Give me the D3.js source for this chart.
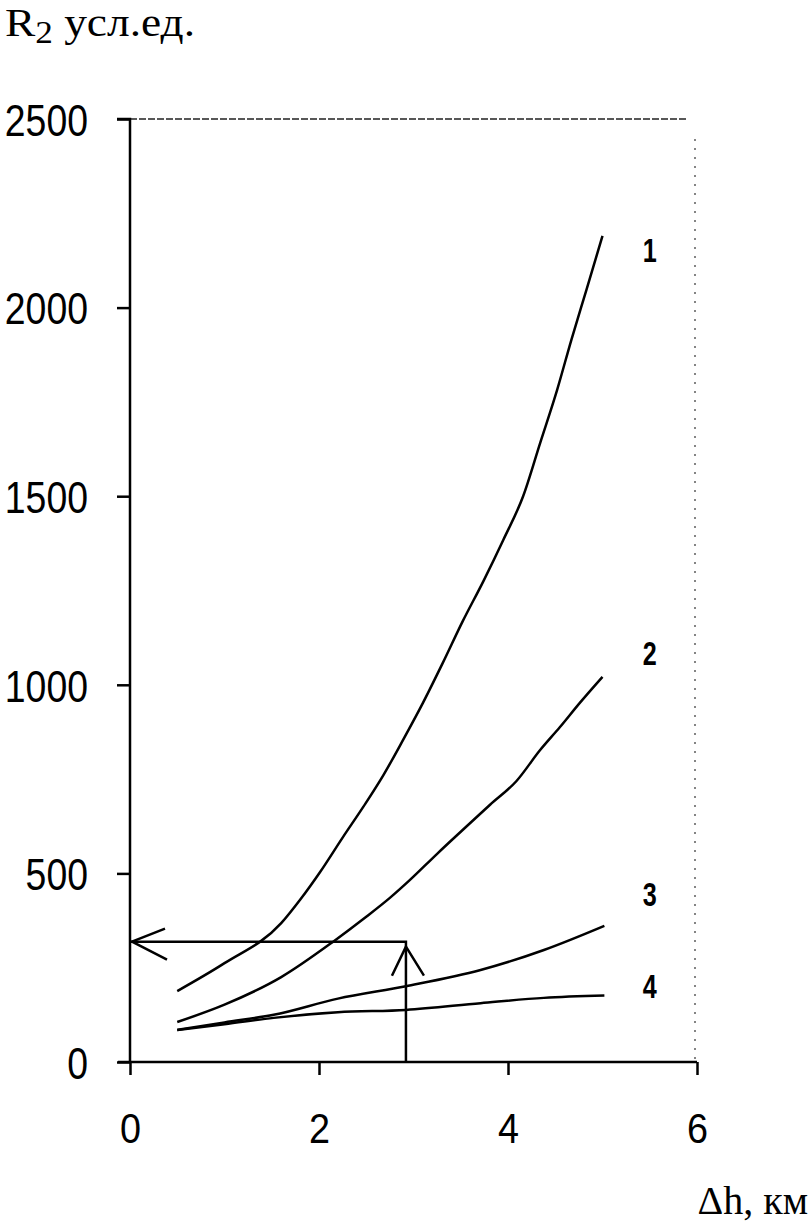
<!DOCTYPE html>
<html><head><meta charset="utf-8">
<script src="https://cdn.jsdelivr.net/npm/d3@7"></script>
<style>body{margin:0;background:#fff}svg{display:block}</style>
</head><body>
<svg id="c" width="810" height="1232"></svg>
<script>
const xTicks = [0, 2, 4, 6];
const yTicks = [0, 500, 1000, 1500, 2000, 2500];
const seriesNames = ["1", "2", "3", "4"];
const curve1 = [[0.5,188],[1.0,262],[1.6,368],[1.8,430],[2.01,503],[2.25,595],[2.47,677],[2.68,760],[2.89,854],[3.10,952],[3.31,1058],[3.52,1168],[3.74,1275],[3.95,1384],[4.16,1500],[4.34,1641],[4.52,1782],[4.67,1914],[4.83,2047],[5.0,2190]];
const curve2 = [[0.5,106],[1.0,152],[1.6,225],[2.15,319],[2.5,385],[2.75,435],[2.96,482],[3.25,552],[3.52,615],[3.81,682],[4.09,745],[4.34,827],[4.55,888],[4.76,952],[5.0,1021]];
const curve3 = [[0.5,85],[1.0,105],[1.52,125],[2.2,168],[2.92,201],[3.71,244],[4.38,297],[5.02,361]];
const curve4 = [[0.5,85],[1.0,100],[1.52,117],[2.2,132],[2.92,138],[3.71,156],[4.38,170],[5.02,176]];
const labelPos = [2153, 1084, 445, 201];
const guideX = 2.92, guideY = 319;

const svg = d3.select("#c");
const x = d3.scaleLinear().domain([0,6]).range([130,697]);
const y = d3.scaleLinear().domain([0,2500]).range([1062,119]);

// frame: dashed top, dotted right
svg.append("line").attr("x1",x(0)).attr("x2",x(5.9)).attr("y1",y(2500)).attr("y2",y(2500))
  .attr("stroke","#222").attr("stroke-width",1.4).attr("stroke-dasharray","7,2");
svg.append("line").attr("x1",x(6)-2).attr("x2",x(6)-2).attr("y1",y(2500)+20).attr("y2",y(0))
  .attr("stroke","#444").attr("stroke-width",1.3).attr("stroke-dasharray","2,7");

// axes
const gy = svg.append("g").attr("transform",`translate(${x(0)},0)`)
  .call(d3.axisLeft(y).tickValues(yTicks).tickSize(13).tickFormat(d3.format("d")));
const gx = svg.append("g").attr("transform",`translate(0,${y(0)})`)
  .call(d3.axisBottom(x).tickValues(xTicks).tickSize(13).tickFormat(d3.format("d")));
[gy,gx].forEach(g=>{
  g.select(".domain").attr("stroke","#000").attr("stroke-width",2.5);
  g.selectAll(".tick line").attr("stroke","#000").attr("stroke-width",2.5);
});
gy.selectAll(".tick text").attr("font-family","Liberation Sans, Arial, sans-serif").attr("font-size",45)
  .attr("fill","#000").attr("dy","0.36em").attr("text-anchor","start")
  .each(function(d){ const L=String(d).length*20.8; d3.select(this).attr("x",-42-L).attr("textLength",L).attr("lengthAdjust","spacingAndGlyphs"); });
gx.selectAll(".tick text").attr("font-family","Liberation Sans, Arial, sans-serif").attr("font-size",42)
  .attr("fill","#000").attr("y",81).attr("dy",0).attr("text-anchor","start").attr("x",-10.5)
  .attr("textLength",21).attr("lengthAdjust","spacingAndGlyphs");
gx.select(".domain").attr("d",`M${x(0)-12},0H${x(6)}`);
gy.select(".domain").attr("d",`M0,${y(0)}V${y(2500)}H-13`);

// curves
const line = d3.line().x(d=>x(d[0])).y(d=>y(d[1])).curve(d3.curveMonotoneX);
[curve1,curve2,curve3,curve4].forEach(c=>{
  svg.append("path").attr("d",line(c)).attr("fill","none").attr("stroke","#000").attr("stroke-width",2.5);
});

// series labels
seriesNames.forEach((n,i)=>{
  svg.append("text").attr("x",x(5.5)-7).attr("y",y(labelPos[i])).attr("text-anchor","start")
    .attr("dy","0.36em").attr("font-family","Liberation Sans, Arial, sans-serif")
    .attr("font-weight","bold").attr("font-size",33).attr("textLength",14).attr("lengthAdjust","spacingAndGlyphs").text(n);
});

// guide arrows
function p(d){svg.append("path").attr("d",d).attr("stroke","#000").attr("stroke-width",2.5).attr("fill","none");}
p(`M${x(guideX)},${y(0)}V${y(guideY)}H${x(0)}`);
p(`M${x(0)+35},${y(guideY)-13}L${x(0)+2},${y(guideY)}L${x(0)+37},${y(guideY)+18}`);
p(`M${x(guideX)-14},${y(guideY)+34}L${x(guideX)},${y(guideY)+5}L${x(guideX)+18},${y(guideY)+34}`);

// titles
svg.append("text").attr("x",5).attr("y",36).attr("font-family","Liberation Serif, Times New Roman, serif")
  .attr("font-size",40).attr("textLength",190).attr("lengthAdjust","spacingAndGlyphs")
  .html('R<tspan font-size="31" dy="7">2</tspan><tspan dy="-7"> усл.ед.</tspan>');
svg.append("text").attr("x",808).attr("y",1214).attr("text-anchor","end")
  .attr("font-family","Liberation Serif, Times New Roman, serif").attr("font-size",40).text("Δh, км");
</script>
</body></html>
